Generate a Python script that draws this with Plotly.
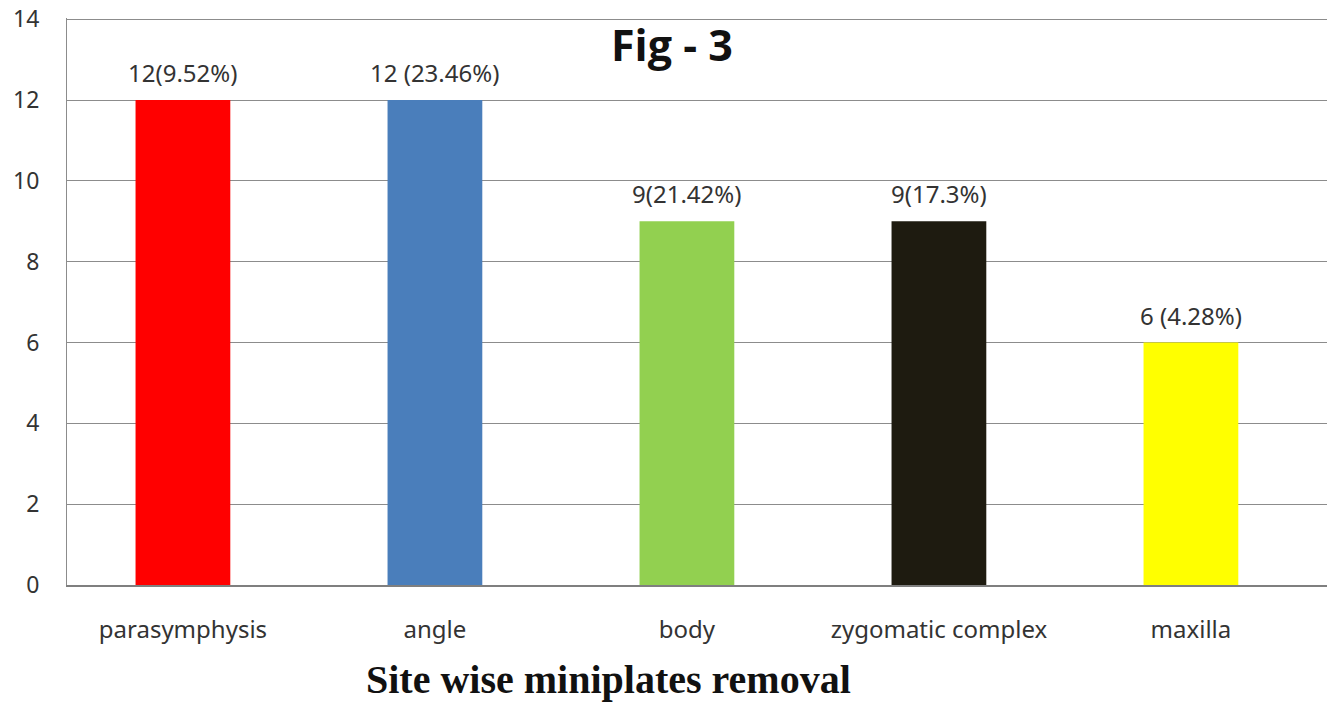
import plotly.graph_objects as go

categories = ["parasymphysis", "angle", "body", "zygomatic complex", "maxilla"]
values = [12, 12, 9, 9, 6]
labels = ["12(9.52%)", "12 (23.46%)", "9(21.42%)", "9(17.3%)", "6 (4.28%)"]
colors = ["#FF0000", "#4A7EBB", "#92D050", "#1E1B10", "#FFFF00"]
y_ticks = [0, 2, 4, 6, 8, 10, 12, 14]

xs = list(range(len(categories)))

L, R, T, B = 67, 1327, 18, 585
W, H = 1338, 704
PW, PH = R - L, B - T

fig = go.Figure()
fig.add_trace(go.Bar(
    x=xs, y=values, marker=dict(color=colors, line=dict(width=0)),
    width=0.376, showlegend=False, hoverinfo="skip",
))

for x, v, t in zip(xs, values, labels):
    fig.add_annotation(x=x, y=v, text=t, showarrow=False, yanchor="bottom",
                       yshift=9, font=dict(family="Noto Sans", size=24, color="#333333"))

fig.add_annotation(xref="paper", yref="paper", x=(672 - L) / PW, y=1 - (44 - T) / PH,
                   text="<b>Fig - 3</b>", showarrow=False, xanchor="center", yanchor="middle",
                   font=dict(family="Open Sans", size=43, color="#111111"))
fig.add_annotation(xref="paper", yref="paper", x=(608 - L) / PW, y=-(679 - B) / PH,
                   text="<b>Site wise miniplates removal</b>", showarrow=False,
                   xanchor="center", yanchor="middle",
                   font=dict(family="Liberation Serif", size=40, color="#111111"))

fig.update_layout(
    width=W, height=H,
    margin=dict(l=L, r=W - R, t=T, b=H - B, autoexpand=False),
    paper_bgcolor="white", plot_bgcolor="white",
)
fig.update_xaxes(
    range=[-0.46, 4.54], tickmode="array", tickvals=xs, ticktext=categories,
    showgrid=False, showline=True, linecolor="#7F7F7F", linewidth=2,
    ticks="", ticklabelstandoff=22, automargin=False,
    tickfont=dict(family="Noto Sans", size=24, color="#333333"),
)
fig.update_yaxes(
    range=[0, 14.03], tickmode="array", tickvals=y_ticks,
    showgrid=True, gridcolor="#8C8C8C", gridwidth=1,
    showline=True, linecolor="#8C8C8C", linewidth=1,
    ticks="", ticklabelstandoff=22, zeroline=False, automargin=False,
    tickfont=dict(family="Noto Sans", size=23, color="#333333"),
)

fig.write_html("out.html", config={"displayModeBar": False},
               post_script="document.body.style.margin='0';document.body.style.overflow='hidden';")
